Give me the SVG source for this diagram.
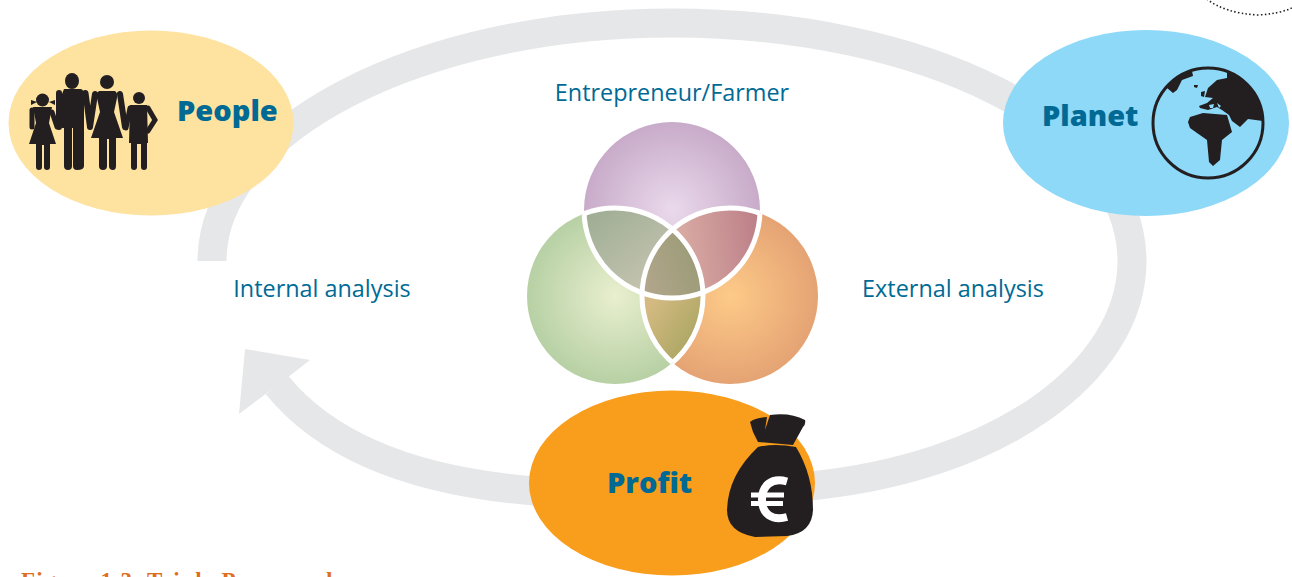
<svg xmlns="http://www.w3.org/2000/svg" width="1292" height="577" viewBox="0 0 1292 577">
<defs>
<style>
.blk{fill:#231f20}
.limb{fill:none;stroke:#231f20;stroke-linecap:round;stroke-linejoin:miter}
.lbl{font-family:"Open Sans","Noto Sans",sans-serif;font-weight:800;fill:#006a95;font-size:29px}
.t{font-family:"Open Sans","Noto Sans",sans-serif;fill:#006a95;font-size:23.400px}
.ring{fill:none;stroke:#e6e7e8;stroke-width:29}
.sep{fill:none;stroke:#fff;stroke-width:5}
</style>
<radialGradient id="gp"><stop offset="0" stop-color="#ead9ec"/><stop offset="1" stop-color="#c8abc9"/></radialGradient>
<radialGradient id="gg"><stop offset="0" stop-color="#e9efcf"/><stop offset="1" stop-color="#b7d0a4"/></radialGradient>
<radialGradient id="go"><stop offset="0" stop-color="#fdca88"/><stop offset="1" stop-color="#e5a374"/></radialGradient>
<linearGradient id="lgreen" gradientUnits="userSpaceOnUse" x1="590" y1="215" x2="650" y2="295"><stop offset="0" stop-color="#9fae94"/><stop offset="1" stop-color="#c8c5b2"/></linearGradient>
<linearGradient id="lpink" gradientUnits="userSpaceOnUse" x1="680" y1="240" x2="760" y2="230"><stop offset="0" stop-color="#d9aaa3"/><stop offset="1" stop-color="#bc7f88"/></linearGradient>
<linearGradient id="lcentre" gradientUnits="userSpaceOnUse" x1="645" y1="290" x2="700" y2="270"><stop offset="0" stop-color="#b2a68c"/><stop offset="1" stop-color="#9c9c78"/></linearGradient>
<linearGradient id="lbottom" gradientUnits="userSpaceOnUse" x1="645" y1="310" x2="695" y2="345"><stop offset="0" stop-color="#d4ba82"/><stop offset="1" stop-color="#aaa662"/></linearGradient>
<clipPath id="cp"><circle cx="672" cy="210" r="88"/></clipPath>
<clipPath id="cg"><circle cx="615" cy="296" r="88"/></clipPath>
<clipPath id="co"><circle cx="730" cy="296" r="88"/></clipPath>
<clipPath id="cgo"><circle cx="615" cy="296" r="88"/><circle cx="730" cy="296" r="88"/></clipPath>
<clipPath id="cpo"><circle cx="672" cy="210" r="88"/><circle cx="730" cy="296" r="88"/></clipPath>
<clipPath id="cpg"><circle cx="672" cy="210" r="88"/><circle cx="615" cy="296" r="88"/></clipPath>
</defs>
<g id="connectors">
<path class="ring" d="M212 261C212 130 420 23 672 23C924 23 1132 125 1132 261C1132 370 1000 470 800 487"/>
<path class="ring" d="M535 491C420 482 330 450 277 385"/>
<polygon points="245,349 310,360 287,378 263,396 239,414" fill="#e6e7e8"/>
</g>
<path d="M1207 -1Q1224 13 1258 15Q1278 14 1292 8" fill="none" stroke="#231f20" stroke-width="1.600" stroke-dasharray="1.500 2.300"/>
<g id="people">
<ellipse cx="151" cy="123" rx="142.500" ry="92.500" fill="#fee29f"/>
<g class="blk">
<ellipse cx="72" cy="81" rx="7" ry="8"/>
<path d="M64 89H81Q84 90 84 95V166Q84 170 77 170Q73 170 73 166L73 128H72V166Q72 170 68 170Q64 170 64 166V128L62 128V94Z"/>
<circle cx="107" cy="82" r="7"/>
<path d="M99 91H115Q118 93 117 98L114 112L123 138H116V166Q116 170 113 170Q109 170 109 166V139H107V166Q107 170 103 170Q99 170 99 166V138H91L100 112L97 98Q96 93 99 91Z"/>
<circle cx="139" cy="98" r="6"/>
<path d="M130 105H147L148 143H147V167Q147 170 144 170Q141 170 141 167V144H137V167Q137 170 134 170Q131 170 131 167V143H129Z"/>
<circle cx="42.500" cy="100" r="6.500"/>
<path d="M33 107H52L49 123L56 144H50V167Q50 170 47 170Q44 170 44 167V145H42V167Q42 170 39 170Q36 170 36 167V144H29L36 123Z"/>
<path d="M31 100L37 102L31 105ZM55 100L49 102L55 105Z"/>
</g>
<path class="limb" stroke-width="6" d="M59 93L59 127M85.500 93L90 127M95 94L90 127M120 94L125 127"/>
<path class="limb" stroke-width="5" d="M32 110V127M52 112L57 127M130 108L126 128M148 108L155 120L148 131"/>
<text class="lbl" x="177" y="121">People</text>
</g>
<g id="planet">
<ellipse cx="1146" cy="123" rx="143" ry="93" fill="#8ed8f8"/>
<circle cx="1208" cy="123" r="55" fill="none" stroke="#231f20" stroke-width="3"/>
<path class="blk" d="M1227 72A55 55 0 0 1 1263 121L1248 119L1240 127L1232 121L1229 115L1222 110L1217 107L1208 110L1200 108L1199 106L1207 103L1213 98L1205 97L1208 88L1217 80L1227 78Z"/>
<path d="M1209 105L1214 104L1213 108L1210 108ZM1217 103L1221 106L1219 108Z" fill="#8ed8f8"/>
<path class="blk" d="M1164 89A55 55 0 0 1 1192 71L1193 76L1182 80L1177 90L1173 93L1167 88Z"/>
<path class="blk" d="M1190 117L1203 113L1227 115L1232 132L1222 140L1220 160L1213 166L1209 162L1207 140L1197 133L1190 128L1188 122Z"/>
<path class="blk" d="M1194 85L1198 85L1197 88L1194 87ZM1201 92L1205 91L1204 97L1201 96Z"/>
<text class="lbl" x="1042" y="126">Planet</text>
</g>
<g id="profit">
<ellipse cx="672" cy="483" rx="143" ry="92.500" fill="#f99d1c"/>
<path class="blk" d="M750 422Q755 418 767 417L765 430L770 415Q790 412 805 420Q806 424 803 427L793 445L758 442L753 432Z"/>
<path class="blk" d="M758 447Q775 443 796 447Q813 475 813 510Q812 533 787 536L755 537Q727 532 727 510Q728 475 758 447Z"/>
<path d="M787 481.500C771 477 762 486 762 499.500C762 514 772 521 787 517" fill="none" stroke="#fff" stroke-width="8"/>
<path d="M751 495H784M751 503.500H783" stroke="#fff" stroke-width="5"/>
<text class="lbl" x="607" y="493">Profit</text>
</g>
<g id="venn">
<circle cx="672" cy="210" r="88" fill="url(#gp)"/>
<circle cx="615" cy="296" r="88" fill="url(#gg)"/>
<circle cx="730" cy="296" r="88" fill="url(#go)"/>
<circle cx="615" cy="296" r="88" fill="url(#lgreen)" clip-path="url(#cp)"/>
<circle cx="730" cy="296" r="88" fill="url(#lpink)" clip-path="url(#cp)"/>
<g clip-path="url(#cg)"><circle cx="730" cy="296" r="88" fill="url(#lbottom)"/></g>
<g clip-path="url(#cp)"><g clip-path="url(#cg)"><circle cx="730" cy="296" r="88" fill="url(#lcentre)"/></g></g>
<circle class="sep" cx="672" cy="210" r="88" clip-path="url(#cgo)"/>
<circle class="sep" cx="615" cy="296" r="88" clip-path="url(#cpo)"/>
<circle class="sep" cx="730" cy="296" r="88" clip-path="url(#cpg)"/>
<text class="t" x="672" y="101" text-anchor="middle">Entrepreneur/Farmer</text>
</g>
<text class="t" x="322" y="297" text-anchor="middle">Internal analysis</text>
<text class="t" x="953" y="297" text-anchor="middle">External analysis</text>
<text x="21" y="588" font-family="Liberation Serif,serif" font-weight="700" font-size="23" fill="#dd6f1f" letter-spacing="1.300">Figure 1.3. Triple P <tspan letter-spacing=".5">approach</tspan></text>
</svg>
